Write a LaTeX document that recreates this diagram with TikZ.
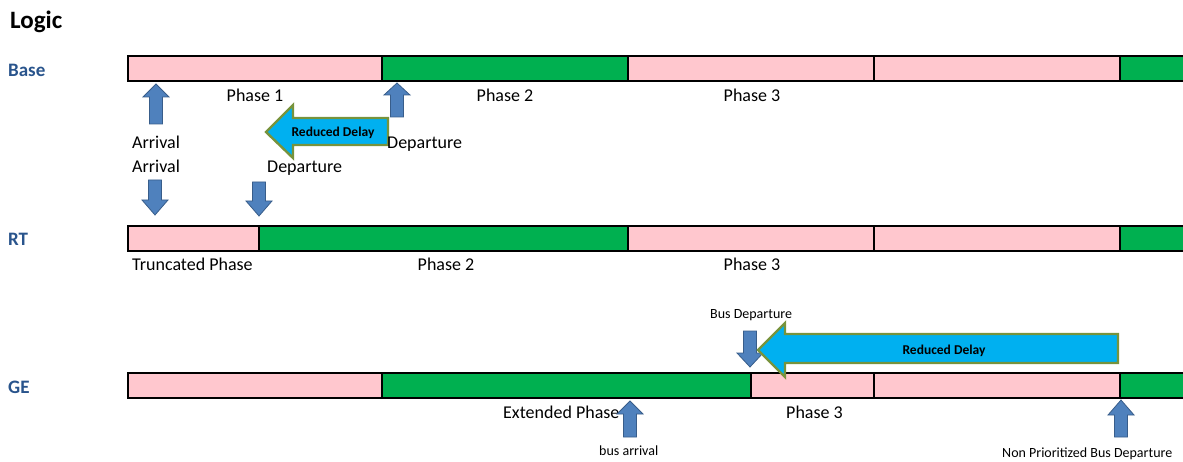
\documentclass[tikz,border=0pt]{standalone}
\usepackage{fontspec}
\setmainfont{Carlito}
\definecolor{pinkph}{RGB}{255,199,206}
\definecolor{greenph}{RGB}{0,176,80}
\definecolor{lblblue}{RGB}{41,84,140}
\definecolor{arrfill}{RGB}{79,129,189}
\definecolor{arrline}{RGB}{56,93,138}
\definecolor{cyanfill}{RGB}{0,176,240}
\definecolor{oliveline}{RGB}{119,147,60}
\newcommand{\myup}[4]{% cx, tip y, head base y, bottom y
  \draw[blk] (#1,#2) -- ({#1+13},#3) -- ({#1+6.5},#3) -- ({#1+6.5},#4) -- ({#1-6.5},#4) -- ({#1-6.5},#3) -- ({#1-13},#3) -- cycle;}
\newcommand{\mydown}[4]{% cx, top y, head base y, tip y
  \draw[blk] ({#1-6.5},#2) -- ({#1+6.5},#2) -- ({#1+6.5},#3) -- ({#1+13},#3) -- (#1,#4) -- ({#1-13},#3) -- ({#1-6.5},#3) -- cycle;}
\newcommand{\mybar}[5]{% top y, bottom y, list of segments as x1/x2/colour
  \foreach \xa/\xb/\cc in {#3} {\fill[\cc] (\xa,#1) rectangle (\xb,#2);}
  \foreach \xd in {#4} {\draw[line width=1.6pt] (\xd,#1) -- (\xd,#2);}
  \draw[line width=2pt] (#5,#2) -- (128,#2) -- (128,#1) -- (#5,#1);}
\begin{document}
\begin{tikzpicture}[x=1pt,y=-1pt,
  blk/.style={fill=arrfill,draw=arrline,line width=0.8pt,line join=miter},
  cyanarr/.style={fill=cyanfill,draw=oliveline,line width=2.4pt,line join=miter},
  txt/.style={inner sep=0pt,font=\fontsize{18}{20}\selectfont},
  small/.style={inner sep=0pt,font=\fontsize{14}{16}\selectfont},
  rowlbl/.style={inner sep=0pt,text=lblblue,font=\fontsize{19}{21}\selectfont\bfseries},
  rdtxt/.style={inner sep=0pt,font=\fontsize{13.5}{15}\selectfont\bfseries}]
\useasboundingbox (0,0) rectangle (1183,462);
\begin{scope}
\clip (0,0) rectangle (1183,462);
% title and row labels
\node[inner sep=0pt,anchor=base west,font=\fontsize{25}{28}\selectfont\bfseries] (title) at (10,29) {Logic};
\node[rowlbl,anchor=base west] (lbase) at (8,77) {Base};
\node[rowlbl,anchor=base west] (lrt) at (8,246) {RT};
\node[rowlbl,anchor=base west] (lge) at (8,393) {GE};
% bars
\mybar{56}{81}{128/382/pinkph,382/628/greenph,628/874/pinkph,874/1120/pinkph,1120/1190/greenph}{382,628,874,1120}{1190}
\mybar{226}{251}{128/259/pinkph,259/628/greenph,628/874/pinkph,874/1120/pinkph,1120/1190/greenph}{259,628,874,1120}{1190}
\mybar{373}{398}{128/382/pinkph,382/751/greenph,751/874/pinkph,874/1120/pinkph,1120/1190/greenph}{382,751,874,1120}{1190}
% phase labels
\node[txt,anchor=base] (bp1) at (255,101.5) {Phase 1};
\node[txt,anchor=base] (bp2) at (505,101.5) {Phase 2};
\node[txt,anchor=base] (bp3) at (752,101.5) {Phase 3};
\node[txt,anchor=base west] (rtp1) at (132,270.5) {Truncated Phase};
\node[txt,anchor=base] (rtp2) at (446,270.5) {Phase 2};
\node[txt,anchor=base] (rtp3) at (752,270.5) {Phase 3};
\node[txt,anchor=base west] (gep2) at (503,418) {Extended Phase};
\node[txt,anchor=base west] (gep3) at (786,418) {Phase 3};
% Base / RT arrows
\myup{156}{84}{97}{124}
\myup{397}{83}{95}{117}
\draw[cyanarr] (266,132) -- (293,105) -- (293,118) -- (388,118) -- (388,145) -- (293,145) -- (293,158) -- cycle;
\node[rdtxt,anchor=base] (rd1) at (333,137) {Reduced Delay};
\node[txt,anchor=base west] (arr1) at (132,149) {Arrival};
\node[txt,anchor=base west] (dep1) at (387,148.5) {Departure};
\node[txt,anchor=base west] (arr2) at (132,173) {Arrival};
\node[txt,anchor=base west] (dep2) at (267,173) {Departure};
\mydown{155}{180}{200}{215}
\mydown{259}{182}{201}{216}
% GE arrows
\node[small,anchor=base west] (busdep) at (710,319) {Bus Departure};
\mydown{750}{331}{353}{367}
\draw[cyanarr] (758,350) -- (785,323) -- (785,334) -- (1118,334) -- (1118,363) -- (785,363) -- (785,377) -- cycle;
\node[rdtxt,anchor=base] (rd2) at (944,354) {Reduced Delay};
\myup{630}{401}{414}{437}
\myup{1121}{400}{415}{437}
\node[small,anchor=base west] (busarr) at (599,455) {bus arrival};
\node[small,anchor=base west] (npbd) at (1002,457) {Non Prioritized Bus Departure};
\end{scope}
\end{tikzpicture}
\end{document}
